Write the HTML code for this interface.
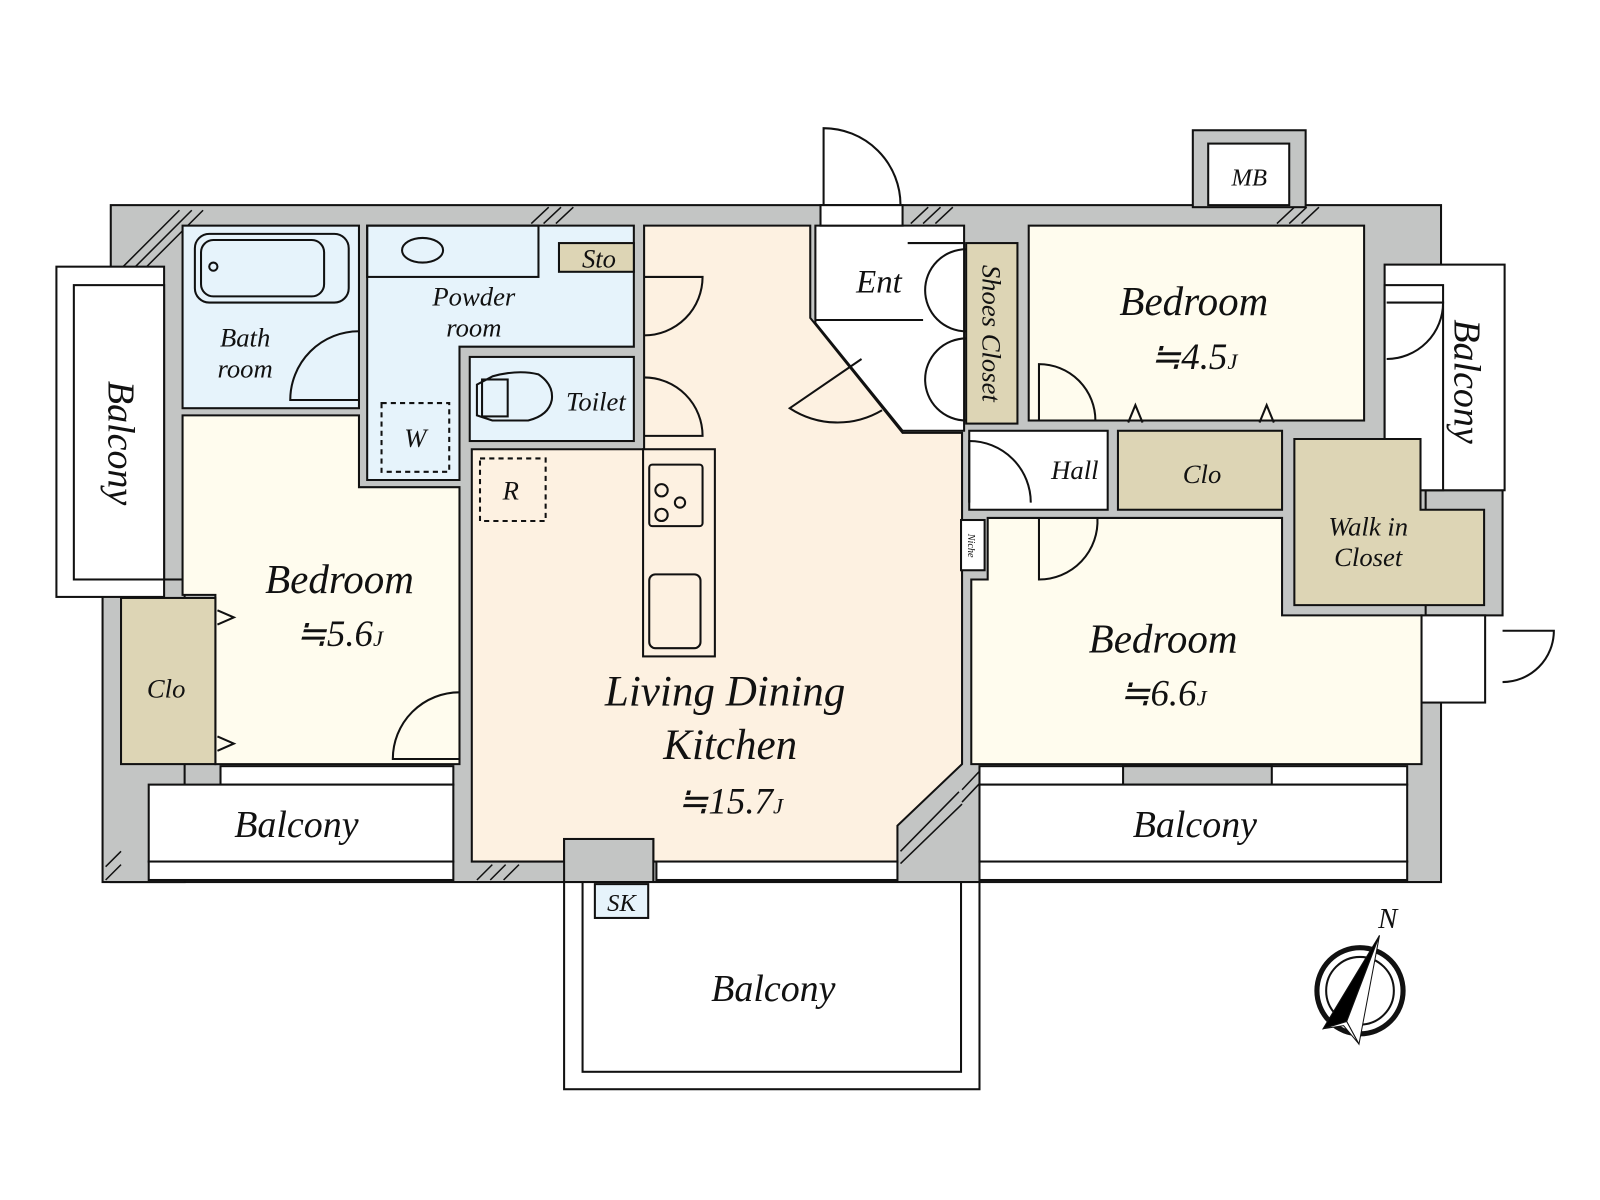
<!DOCTYPE html>
<html><head><meta charset="utf-8"><style>
html,body{margin:0;padding:0;background:#fff;width:1600px;height:1200px;overflow:hidden}
svg{display:block}
text{font-family:"Liberation Serif",serif;font-style:italic;fill:#111}
</style></head><body>
<svg width="1600" height="1200" viewBox="0 0 1560 1170" preserveAspectRatio="none" xmlns="http://www.w3.org/2000/svg">
<g stroke="#111" stroke-width="2">
<!-- walls -->
<rect x="108" y="200" width="1297" height="660" fill="#c3c5c4"/>
<rect x="100" y="565" width="80" height="295" fill="#c3c5c4"/>
<rect x="1163" y="127" width="110" height="75" fill="#c3c5c4"/>
<rect x="1178" y="140" width="79" height="60" fill="#fff"/>
<rect x="1390" y="478" width="75" height="122" fill="#c3c5c4"/>
<!-- hatches -->
<g stroke-width="1.5">
<path d="M110 270 L175 205 M110 282 L187 205 M125 278 L198 205"/>
<path d="M518 218 L535 202 M530 218 L547 202 M542 218 L559 202"/>
<path d="M888 218 L905 202 M900 218 L917 202 M912 218 L929 202"/>
<path d="M1245 218 L1262 202 M1257 218 L1274 202 M1269 218 L1286 202"/>
<path d="M103 858 L118 843 M103 845 L118 830"/>
<path d="M465 858 L480 843 M478 858 L493 843 M491 858 L506 843"/>
<path d="M878 830 L935 772 M878 842 L938 784"/>
<path d="M938 770 L955 752 M938 782 L955 764"/>
</g>
<!-- right balcony -->
<rect x="1350" y="258" width="117" height="220" fill="#fff"/>
<rect x="1350" y="278" width="57" height="200" fill="#fff"/>
<!-- left balcony -->
<rect x="55" y="260" width="105" height="322" fill="#fff"/>
<rect x="72" y="278" width="88" height="287" fill="#fff"/>
<!-- wet -->
<rect x="178" y="220" width="172" height="178" fill="#e6f3fb"/>
<rect x="190" y="228" width="150" height="67" rx="14" fill="none"/>
<rect x="196" y="234" width="120" height="55" rx="12" fill="none"/>
<circle cx="208" cy="260" r="4" fill="none"/>
<polygon points="358,220 618,220 618,338 448,338 448,468 358,468" fill="#e6f3fb"/>
<rect x="358" y="220" width="167" height="50" fill="none"/>
<ellipse cx="412" cy="244" rx="20" ry="12" fill="none"/>
<rect x="545" y="237" width="73" height="28" fill="#ddd5b5"/>
<rect x="458" y="348" width="160" height="82" fill="#e6f3fb"/>
<path d="M465 375 L480 367 Q505 360 525 365 Q540 375 538 390 Q535 405 515 410 L480 410 L465 405 Z" fill="none"/>
<rect x="470" y="370" width="25" height="36" fill="none"/>
<rect x="372" y="393" width="66" height="67" fill="none" stroke-dasharray="5,4"/>
<!-- LDK -->
<polygon points="628,220 790,220 790,310 880,422 938,422 938,745 875,805 875,840 637,840 637,818 550,818 550,840 460,840 460,438 628,438" fill="#fdf1e1"/>
<rect x="550" y="818" width="87" height="42" fill="#c3c5c4"/>
<rect x="627" y="438" width="70" height="202" fill="#fdf1e1"/>
<rect x="633" y="453" width="52" height="60" rx="3" fill="none"/>
<circle cx="645" cy="478" r="6" fill="none"/><circle cx="663" cy="490" r="5" fill="none"/><circle cx="645" cy="502" r="6" fill="none"/>
<rect x="633" y="560" width="50" height="72" rx="6" fill="none"/>
<rect x="468" y="447" width="64" height="61" fill="none" stroke-dasharray="5,4"/>
<!-- Ent -->
<polygon points="795,220 940,220 940,420 880,420 795,315" fill="#fff"/>
<path d="M795 312 H900 M885 237 H940" fill="none"/>
<rect x="942" y="237" width="50" height="176" fill="#ddd5b5"/>
<rect x="800" y="200" width="80" height="20" fill="#fff"/>
<!-- bedrooms -->
<rect x="1003" y="220" width="327" height="190" fill="#fffcee"/>
<rect x="945" y="420" width="135" height="77" fill="#fff"/>
<rect x="1090" y="420" width="160" height="77" fill="#ddd5b5"/>
<polygon points="1262,428 1385,428 1385,497 1447,497 1447,590 1262,590" fill="#ddd5b5"/>
<polygon points="963,505 1250,505 1250,600 1386,600 1386,745 947,745 947,565 963,565" fill="#fffcee"/>
<rect x="937" y="507" width="23" height="49" fill="#fff"/>
<rect x="1386" y="600" width="62" height="85" fill="#fff"/>
<polygon points="178,405 350,405 350,475 448,475 448,745 210,745 210,580 178,580" fill="#fffcee"/>
<rect x="118" y="583" width="92" height="162" fill="#ddd5b5"/>
<!-- balconies -->
<rect x="215" y="747" width="227" height="18" fill="#fff"/>
<rect x="145" y="765" width="297" height="75" fill="#fff"/>
<rect x="145" y="840" width="297" height="18" fill="#fff"/>
<rect x="955" y="747" width="417" height="18" fill="#fff"/>
<rect x="1095" y="747" width="145" height="18" fill="#c3c5c4"/>
<rect x="955" y="765" width="417" height="75" fill="#fff"/>
<rect x="955" y="840" width="417" height="18" fill="#fff"/>
<rect x="640" y="840" width="235" height="18" fill="#fff"/>
<rect x="550" y="860" width="405" height="202" fill="#fff"/>
<rect x="568" y="860" width="369" height="185" fill="#fff"/>
<rect x="580" y="862" width="52" height="33" fill="#e6f3fb"/>
<!-- doors -->
<g fill="none">
<path d="M803 200 V125 A75 75 0 0 1 878 200"/>
<path d="M350 390 H283 A67 67 0 0 1 350 323"/>
<path d="M628 270 H685 A57 57 0 0 1 628 327"/>
<path d="M628 425 H685 A57 57 0 0 0 628 368"/>
<path d="M448 740 H383 A65 65 0 0 1 448 675"/>
<path d="M1013 410 V355 A55 55 0 0 1 1068 410"/>
<path d="M945 490 V430 A60 60 0 0 1 1005 490"/>
<path d="M1013 505 V565 A57 57 0 0 0 1070 505"/>
<path d="M1352 295 H1407 A55 55 0 0 1 1352 350"/>
<path d="M1465 615 H1515 A50 50 0 0 1 1465 665"/>
<path d="M840 350 L770 398 A85 85 0 0 0 860 400"/>
<path d="M942 243 A40 40 0 0 0 902 283 M942 323 A40 40 0 0 1 902 283 M942 330 A40 40 0 0 0 902 370 M942 410 A40 40 0 0 1 902 370"/>
<path d="M1100 412 L1107 395 L1114 412 M1228 412 L1235 395 L1242 412"/>
<path d="M212 595 L228 602 L212 609 M212 718 L228 725 L212 732"/>
</g>
<!-- compass -->
<circle cx="1326" cy="966" r="42" fill="none" stroke-width="5"/>
<circle cx="1326" cy="966" r="33" fill="none" stroke-width="2"/>
<polygon points="1345,912 1290,1003 1313,996" fill="#000" stroke-width="1"/>
<polygon points="1345,912 1313,996 1325,1018" fill="#fff" stroke-width="1"/>
<polygon points="1290,1003 1313,996 1325,1018 1310,1000" fill="#fff" stroke-width="1"/>
</g>
<g font-size="40">
<text x="1164" y="307" text-anchor="middle">Bedroom</text>
<text x="1164" y="360" text-anchor="middle" font-size="36">≒4.5<tspan font-size="22">J</tspan></text>
<text x="331" y="578" text-anchor="middle">Bedroom</text>
<text x="331" y="630" text-anchor="middle" font-size="36">≒5.6<tspan font-size="22">J</tspan></text>
<text x="1134" y="636" text-anchor="middle">Bedroom</text>
<text x="1134" y="688" text-anchor="middle" font-size="36">≒6.6<tspan font-size="22">J</tspan></text>
<text x="707" y="688" text-anchor="middle" font-size="42">Living Dining</text>
<text x="712" y="740" text-anchor="middle" font-size="42">Kitchen</text>
<text x="712" y="793" text-anchor="middle" font-size="36">≒15.7<tspan font-size="22">J</tspan></text>
<text x="289" y="816" text-anchor="middle" font-size="37">Balcony</text>
<text x="1165" y="816" text-anchor="middle" font-size="37">Balcony</text>
<text x="754" y="976" text-anchor="middle" font-size="37">Balcony</text>
<text transform="translate(106,432) rotate(90)" text-anchor="middle" font-size="37">Balcony</text>
<text transform="translate(1418,372) rotate(90)" text-anchor="middle" font-size="37">Balcony</text>
</g>
<g font-size="26">
<text x="857" y="285" text-anchor="middle" font-size="32">Ent</text>
<text x="239" y="338" text-anchor="middle">Bath</text>
<text x="239" y="368" text-anchor="middle">room</text>
<text x="462" y="298" text-anchor="middle">Powder</text>
<text x="462" y="328" text-anchor="middle">room</text>
<text x="581" y="400" text-anchor="middle">Toilet</text>
<text x="584" y="261" text-anchor="middle">Sto</text>
<text x="405" y="436" text-anchor="middle">W</text>
<text x="498" y="487" text-anchor="middle">R</text>
<text x="1048" y="467" text-anchor="middle">Hall</text>
<text x="1172" y="471" text-anchor="middle">Clo</text>
<text x="162" y="680" text-anchor="middle">Clo</text>
<text x="1334" y="522" text-anchor="middle">Walk in</text>
<text x="1334" y="552" text-anchor="middle">Closet</text>
<text x="1218" y="181" text-anchor="middle" font-size="24">MB</text>
<text x="606" y="888" text-anchor="middle" font-size="24">SK</text>
<text x="1353" y="905" text-anchor="middle" font-size="28">N</text>
<text transform="translate(958,325) rotate(90)" text-anchor="middle" font-size="26">Shoes Closet</text>
<text transform="translate(944,532) rotate(90)" text-anchor="middle" font-size="10">Niche</text>
</g>
</svg>
</body></html>
